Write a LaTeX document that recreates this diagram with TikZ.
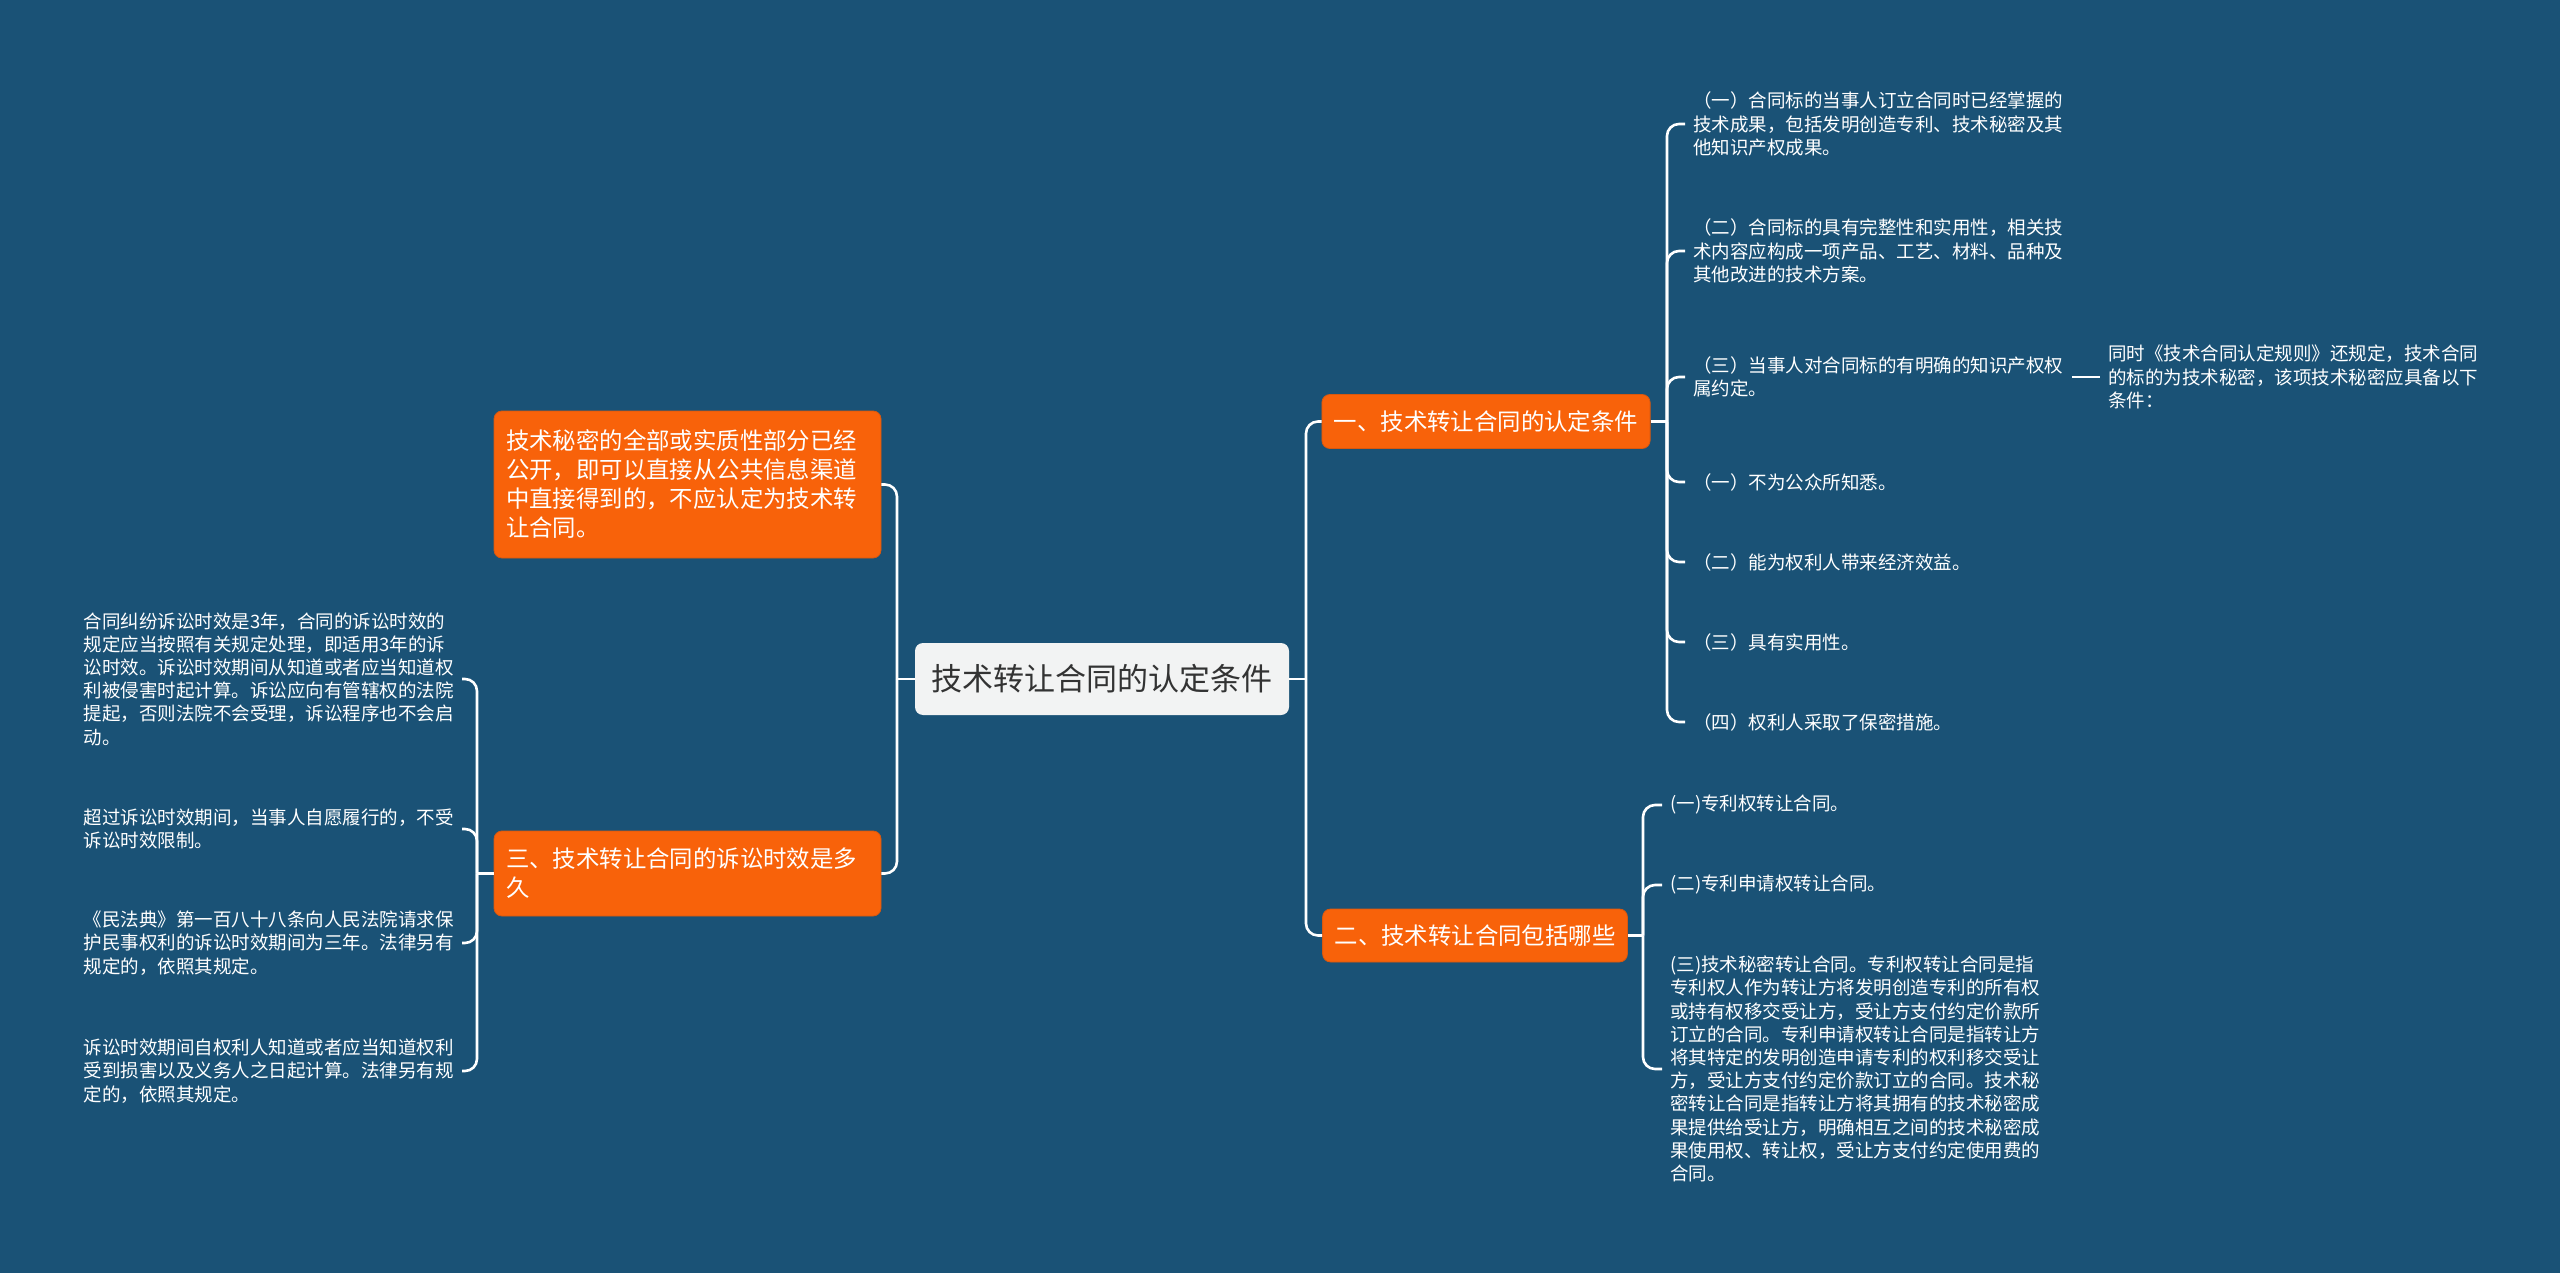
\documentclass[tikz,border=0pt]{standalone}
\usepackage{fontspec}
\setmainfont{Noto Sans CJK SC}
\usetikzlibrary{positioning}
\definecolor{fondoMapa}{HTML}{1A5276}
\definecolor{naranjaRama}{HTML}{F8620A}
\definecolor{bordeRama}{HTML}{D8580F}
\definecolor{grisRaiz}{HTML}{F2F3F3}
\definecolor{textoRaiz}{HTML}{333333}

\begin{document}
\begin{tikzpicture}[x=0.5pt, y=-0.5pt,
        node distance=14pt,
        raiz/.style={fill=grisRaiz, text=textoRaiz, rounded corners=4pt,
            minimum width=187pt, minimum height=36pt, font=\fontsize{15.5pt}{18pt}\selectfont},
        rama/.style={fill=naranjaRama, draw=bordeRama, line width=0.4pt, text=white, rounded corners=4pt,
            inner xsep=6pt, align=left, font=\fontsize{11.7pt}{14.5pt}\selectfont},
        hoja/.style={text=white, inner xsep=4pt, inner ysep=2pt, align=left,
            font=\fontsize{9.25pt}{11.6pt}\selectfont},
        rel/.style={draw=white, line width=1.3pt, rounded corners=6pt}
    ]
        \fill[fondoMapa] (0,0) rectangle (2560,1273);

        \node[raiz] (raiz) at (1102,679) {技术转让合同的认定条件};
        \node[rama, text width=181.5pt, minimum height=73.5pt] (secreto) at (687.5,484.5)
            {技术秘密的全部或实质性部分已经\\公开，即可以直接从公共信息渠道\\中直接得到的，不应认定为技术转\\让合同。};
        \node[rama, text width=181.5pt, minimum height=42.5pt] (plazo) at (687.5,873.5)
            {三、技术转让合同的诉讼时效是多\\久};
        \node[rama, minimum width=163.5pt, minimum height=27pt] (cond) at (1486,421.5) {一、技术转让合同的认定条件};
        \node[rama, minimum width=152pt, minimum height=26.5pt] (tipos) at (1475,935.5) {二、技术转让合同包括哪些};

        \node[hoja, anchor=west] (c1) at (1685,124)
            {（一）合同标的当事人订立合同时已经掌握的\\技术成果，包括发明创造专利、技术秘密及其\\他知识产权成果。};
        \node[hoja, anchor=west] (c2) at (1685,251)
            {（二）合同标的具有完整性和实用性，相关技\\术内容应构成一项产品、工艺、材料、品种及\\其他改进的技术方案。};
        \node[hoja, anchor=west] (c3) at (1685,377)
            {（三）当事人对合同标的有明确的知识产权权\\属约定。};
        \node[hoja, right=of c3] (regla)
            {同时《技术合同认定规则》还规定，技术合同\\的标的为技术秘密，该项技术秘密应具备以下\\条件：};
        \node[hoja, anchor=west] (c4) at (1685,482) {（一）不为公众所知悉。};
        \node[hoja, anchor=west] (c5) at (1685,562) {（二）能为权利人带来经济效益。};
        \node[hoja, anchor=west] (c6) at (1685,642) {（三）具有实用性。};
        \node[hoja, anchor=west] (c7) at (1685,722) {（四）权利人采取了保密措施。};

        \node[hoja, anchor=west] (t1) at (1662,805) {(一)专利权转让合同。};
        \node[hoja, anchor=west] (t2) at (1662,885) {(二)专利申请权转让合同。};
        \node[hoja, anchor=west] (t3) at (1662,1069)
            {(三)技术秘密转让合同。专利权转让合同是指\\专利权人作为转让方将发明创造专利的所有权\\或持有权移交受让方，受让方支付约定价款所\\订立的合同。专利申请权转让合同是指转让方\\将其特定的发明创造申请专利的权利移交受让\\方，受让方支付约定价款订立的合同。技术秘\\密转让合同是指转让方将其拥有的技术秘密成\\果提供给受让方，明确相互之间的技术秘密成\\果使用权、转让权，受让方支付约定使用费的\\合同。};

        \node[hoja, anchor=east] (s1) at (462,679)
            {合同纠纷诉讼时效是3年，合同的诉讼时效的\\规定应当按照有关规定处理，即适用3年的诉\\讼时效。诉讼时效期间从知道或者应当知道权\\利被侵害时起计算。诉讼应向有管辖权的法院\\提起，否则法院不会受理，诉讼程序也不会启\\动。};
        \node[hoja, anchor=east] (s2) at (462,829)
            {超过诉讼时效期间，当事人自愿履行的，不受\\诉讼时效限制。};
        \node[hoja, anchor=east] (s3) at (462,943)
            {《民法典》第一百八十八条向人民法院请求保\\护民事权利的诉讼时效期间为三年。法律另有\\规定的，依照其规定。};
        \node[hoja, anchor=east] (s4) at (462,1071)
            {诉讼时效期间自权利人知道或者应当知道权利\\受到损害以及义务人之日起计算。法律另有规\\定的，依照其规定。};

        \coordinate (jIzq) at (897,679);
        \coordinate (jDer) at (1306,679);
        \coordinate (jCond) at (1667,421.5);
        \coordinate (jTipos) at (1643,935.5);
        \coordinate (jPlazo) at (477,873.5);

        \draw[rel] (raiz.west) -- (jIzq);
        \draw[rel] (jIzq) |- (secreto.east);
        \draw[rel] (jIzq) |- (plazo.east);
        \draw[rel] (raiz.east) -- (jDer);
        \draw[rel] (jDer) |- (cond.west);
        \draw[rel] (jDer) |- (tipos.west);
        \draw[rel] (cond.east) -- (jCond);
        \foreach \i in {1,...,7} \draw[rel] (jCond) |- (c\i.west);
        \draw[rel] (c3.east) -- (regla.west);
        \draw[rel] (tipos.east) -- (jTipos);
        \foreach \i in {1,2,3} \draw[rel] (jTipos) |- (t\i.west);
        \draw[rel] (plazo.west) -- (jPlazo);
        \foreach \i in {1,...,4} \draw[rel] (jPlazo) |- (s\i.east);
    \end{tikzpicture}
\end{document}
